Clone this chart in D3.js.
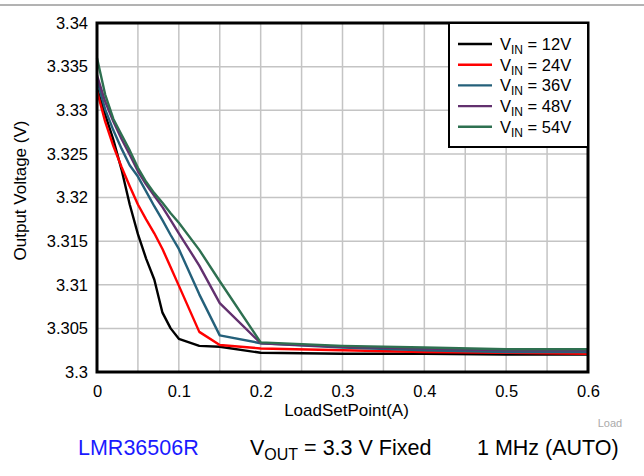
<!DOCTYPE html>
<html>
<head>
<meta charset="utf-8">
<script src="https://cdn.jsdelivr.net/npm/d3@7"></script>
<style>
  body { margin: 0; background: #fff; }
  text { font-family: "Liberation Sans", Arial, sans-serif; }
</style>
</head>
<body>
<svg id="chart" width="644" height="476"></svg>
<script>
// Tải (A)
const loadA = [0, 0.01, 0.02, 0.03, 0.04, 0.05, 0.06, 0.07, 0.08, 0.09, 0.1, 0.125, 0.15, 0.2, 0.3, 0.4, 0.5, 0.6];

// Điện áp ra theo từng VIN
const vin12 = [3.3325, 3.3295, 3.3266, 3.3232, 3.3192, 3.3158, 3.3130, 3.3106, 3.3068, 3.3050, 3.3038, 3.3030, 3.3029, 3.3022, 3.3021, 3.3021, 3.3020, 3.3020];
const vin24 = [3.3322, 3.3287, 3.3259, 3.3235, 3.3213, 3.3192, 3.3175, 3.3159, 3.3141, 3.3120, 3.3099, 3.3046, 3.3031, 3.3027, 3.3025, 3.3023, 3.3022, 3.3021];
const vin36 = [3.3335, 3.3301, 3.3277, 3.3256, 3.3237, 3.3224, 3.3207, 3.3190, 3.3174, 3.3157, 3.3141, 3.3089, 3.3042, 3.3033, 3.3028, 3.3025, 3.3023, 3.3023];
const vin48 = [3.3340, 3.3310, 3.3287, 3.3267, 3.3249, 3.3230, 3.3215, 3.3202, 3.3189, 3.3174, 3.3159, 3.3122, 3.3079, 3.3033, 3.3029, 3.3027, 3.3025, 3.3025];
const vin54 = [3.3360, 3.3318, 3.3290, 3.3272, 3.3254, 3.3234, 3.3218, 3.3205, 3.3194, 3.3182, 3.3171, 3.3140, 3.3104, 3.3034, 3.3030, 3.3028, 3.3026, 3.3026];

const seriesNames = ["12V", "24V", "36V", "48V", "54V"];
const seriesColors = ["#000000", "#ff0000", "#24607a", "#62306e", "#2e7050"];
const seriesValues = [vin12, vin24, vin36, vin48, vin54];

const xTicks = [0, 0.1, 0.2, 0.3, 0.4, 0.5, 0.6];
const xGrid = d3.range(0, 13).map(i => i * 0.05);
const yTicks = [3.3, 3.305, 3.31, 3.315, 3.32, 3.325, 3.33, 3.335, 3.34];

const svg = d3.select("#chart");
const margin = {top: 23, right: 56, bottom: 104, left: 97};
const W = 644, H = 476;
const width = W - margin.left - margin.right,
      height = H - margin.top - margin.bottom;

// đường kẻ trên cùng
svg.append("line")
  .attr("x1", 0).attr("x2", W).attr("y1", 5).attr("y2", 5)
  .attr("stroke", "#666").attr("stroke-width", 1);

const g = svg.append("g").attr("transform", `translate(${margin.left},${margin.top})`);

const x = d3.scaleLinear().domain([0, 0.6]).range([0, width]);
const y = d3.scaleLinear().domain([3.3, 3.34]).range([height, 0]);

// Lưới
g.selectAll("line.gx").data(xGrid).enter().append("line")
  .attr("x1", d => x(d)).attr("x2", d => x(d))
  .attr("y1", 0).attr("y2", height)
  .attr("stroke", "#c4c4c4").attr("stroke-width", 1.5);
g.selectAll("line.gy").data(yTicks).enter().append("line")
  .attr("x1", 0).attr("x2", width)
  .attr("y1", d => y(d)).attr("y2", d => y(d))
  .attr("stroke", "#c4c4c4").attr("stroke-width", 1.5);

// Trục (chỉ nhãn)
const ax = g.append("g")
  .attr("transform", `translate(0,${height})`)
  .call(d3.axisBottom(x).tickValues(xTicks).tickSize(0).tickPadding(13).tickFormat(d3.format("")));
const ay = g.append("g")
  .call(d3.axisLeft(y).tickValues(yTicks).tickSize(0).tickPadding(9).tickFormat(d3.format("")));
[ax, ay].forEach(a => {
  a.select(".domain").remove();
  a.selectAll("text").attr("fill", "#000").style("font-size", "16.5px")
    .style("font-family", '"Liberation Sans", Arial, sans-serif');
});

// Các đường
const line = d3.line()
  .x((d, i) => x(loadA[i]))
  .y(d => y(d));
seriesValues.forEach((vals, k) => {
  g.append("path")
    .datum(vals)
    .attr("fill", "none")
    .attr("stroke", seriesColors[k])
    .attr("stroke-width", 2.4)
    .attr("stroke-linejoin", "round")
    .attr("d", line);
});

// Khung
g.append("rect")
  .attr("x", 0).attr("y", 0).attr("width", width).attr("height", height)
  .attr("fill", "none").attr("stroke", "#000").attr("stroke-width", 3);

// Chú giải
const lg = g.append("g").attr("transform", `translate(${width - 139},0)`);
lg.append("rect")
  .attr("width", 139).attr("height", 124)
  .attr("fill", "#fff").attr("stroke", "#000").attr("stroke-width", 2);
seriesNames.forEach((nm, k) => {
  const yy = 21 + k * 20.7;
  lg.append("line")
    .attr("x1", 9).attr("x2", 43).attr("y1", yy).attr("y2", yy)
    .attr("stroke", seriesColors[k]).attr("stroke-width", 2.4);
  const t = lg.append("text").attr("x", 51).attr("y", yy + 6).style("font-size", "16.5px");
  t.append("tspan").text("V");
  t.append("tspan").attr("dy", 4).style("font-size", "12px").text("IN");
  t.append("tspan").attr("dy", -4).text(" = " + nm);
});

// Tiêu đề trục
svg.append("text")
  .attr("x", margin.left + width / 2 + 4).attr("y", 416)
  .attr("text-anchor", "middle").style("font-size", "17px")
  .text("LoadSetPoint(A)");
svg.append("text")
  .attr("transform", `translate(26,${margin.top + height / 2 - 7}) rotate(-90)`)
  .attr("text-anchor", "middle").style("font-size", "17px")
  .text("Output Voltage (V)");

svg.append("text")
  .attr("x", 610).attr("y", 427)
  .attr("text-anchor", "middle").style("font-size", "11px").attr("fill", "#aaa")
  .text("Load");

// Dòng chú thích dưới
svg.append("text")
  .attr("x", 78).attr("y", 455).style("font-size", "21.5px").attr("fill", "#1a1aff")
  .text("LMR36506R");
const vt = svg.append("text").attr("x", 250).attr("y", 455).style("font-size", "21.5px");
vt.append("tspan").text("V");
vt.append("tspan").attr("dy", 5).style("font-size", "16px").text("OUT");
vt.append("tspan").attr("dy", -5).text(" = 3.3 V Fixed");
svg.append("text")
  .attr("x", 477).attr("y", 455).style("font-size", "21.5px")
  .text("1 MHz (AUTO)");
</script>
</body>
</html>
